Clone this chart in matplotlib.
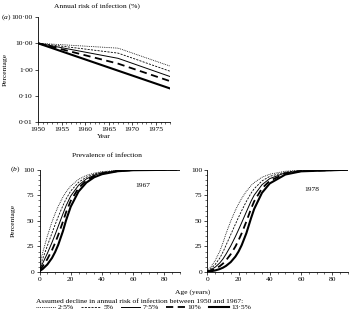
import matplotlib
matplotlib.use("Agg")
import matplotlib.pyplot as plt
from matplotlib.ticker import FixedLocator, MultipleLocator, NullLocator

plt.rcParams['font.family'] = ['Liberation Serif', 'DejaVu Serif']
plt.rcParams['mathtext.fontset'] = 'custom'
plt.rcParams['mathtext.it'] = 'Liberation Serif:italic'
plt.rcParams['mathtext.rm'] = 'Liberation Serif'
FS = 5.4

# scenarios: assumed decline in annual risk 1950-1967
labels = ['2·5%', '5%', '7·5%', '10%', '13·5%']

# (a) annual risk of infection (%)
years = [1950, 1967, 1978]
risk_25 = [10.0, 6.5, 1.35]
risk_5 = [10.0, 4.2, 0.86]
risk_75 = [10.0, 2.66, 0.54]
risk_10 = [10.0, 1.67, 0.36]
risk_135 = [10.0, 0.9, 0.19]

# (b) prevalence of infection by age, 1967
age_67 = [0, 2, 5, 8, 10, 12, 15, 17, 20, 25, 30, 35, 40, 50, 60, 90]
prev67_25 = [6.5, 18.7, 35.0, 49.1, 57.1, 64.3, 73.3, 78.2, 84.1, 90.6, 94.5, 96.7, 98.1, 99.3, 99.8, 100]
prev67_5 = [4.2, 12.7, 25.5, 38.1, 46.3, 54.1, 64.9, 71.4, 79.2, 87.7, 92.7, 95.7, 97.5, 99.1, 99.7, 100]
prev67_75 = [2.7, 8.4, 18.1, 28.9, 36.6, 44.7, 56.8, 64.7, 74.3, 84.8, 91.0, 94.7, 96.9, 98.9, 99.6, 100]
prev67_10 = [1.7, 5.5, 12.5, 21.4, 28.4, 36.2, 49.2, 58.4, 69.6, 82.1, 89.4, 93.8, 96.3, 98.7, 99.6, 100]
prev67_135 = [0.85, 2.9, 7.3, 13.7, 19.5, 26.6, 39.9, 50.5, 63.9, 78.7, 87.4, 92.6, 95.6, 98.5, 99.5, 100]

# (b) prevalence of infection by age, 1978
age_78 = [0, 2, 5, 8, 10, 12, 15, 18, 20, 22, 25, 28, 30, 35, 40, 50, 60, 90]
prev78_25 = [1.3, 4.5, 11.1, 20.3, 28.5, 37.6, 49.8, 60.4, 66.6, 72.0, 78.9, 84.5, 87.4, 92.6, 95.6, 98.5, 99.5, 100]
prev78_5 = [0.85, 2.9, 7.3, 13.6, 19.4, 26.2, 36.5, 46.8, 53.5, 59.9, 69.0, 77.0, 81.4, 89.0, 93.5, 97.7, 99.2, 100]
prev78_75 = [0.54, 1.9, 4.7, 8.9, 12.7, 17.5, 25.5, 34.7, 41.3, 48.2, 58.8, 69.2, 75.1, 85.3, 91.3, 97.0, 98.9, 100]
prev78_10 = [0.34, 1.2, 3.0, 5.7, 8.2, 11.4, 17.4, 24.9, 31.0, 37.8, 49.3, 61.8, 69.1, 81.7, 89.2, 96.2, 98.7, 100]
prev78_135 = [0.17, 0.6, 1.5, 2.9, 4.2, 6.0, 9.7, 15.1, 20.0, 26.2, 37.9, 52.6, 61.6, 77.4, 86.6, 95.3, 98.4, 100]

styles = [dict(ls=(0, (1, 1.2)), lw=0.6),
          dict(ls=(0, (2.5, 1.5)), lw=0.6),
          dict(ls='-', lw=0.7),
          dict(ls=(0, (4, 2.5)), lw=1.3),
          dict(ls='-', lw=1.5)]

W, H = 350, 317
fig = plt.figure(figsize=(W / 100, H / 100), dpi=100)


def box(x0, y0, x1, y1):
    return [x0 / W, 1 - y1 / H, (x1 - x0) / W, (y1 - y0) / H]


def style_axis(ax):
    for s in ['top', 'right']:
        ax.spines[s].set_visible(False)
    for s in ['left', 'bottom']:
        ax.spines[s].set_linewidth(0.6)
    ax.tick_params(which='major', direction='out', length=2.2, width=0.5, labelsize=FS, pad=1.5)
    ax.tick_params(which='minor', direction='out', length=1.2, width=0.4)


# panel (a)
axa = fig.add_axes(box(38, 17, 170, 122))
for vals, st in zip([risk_25, risk_5, risk_75, risk_10, risk_135], styles):
    axa.plot(years, vals, color='black', **st)
axa.set_yscale('log')
axa.set_ylim(0.01, 100)
axa.set_xlim(1950, 1978)
axa.yaxis.set_major_locator(FixedLocator([0.01, 0.1, 1, 10, 100]))
axa.set_yticklabels(['0·01', '0·10', '1·00', '10·00', '100·00'])
axa.yaxis.set_minor_locator(NullLocator())
axa.xaxis.set_major_locator(MultipleLocator(5))
axa.xaxis.set_minor_locator(MultipleLocator(1))
style_axis(axa)
axa.set_xlabel('Year', fontsize=FS, labelpad=1)
axa.set_ylabel('Percentage', fontsize=FS, labelpad=3)

fig.text(97 / W, 1 - 6 / H, 'Annual risk of infection (%)', fontsize=FS, ha='center', va='center')
fig.text(1 / W, 1 - 17 / H, r'($\it{a}$)', fontsize=FS, ha='left', va='center')

# panel (b)
axl = fig.add_axes(box(39.5, 169.7, 180.1, 272))
axr = fig.add_axes(box(207.3, 169.7, 347.9, 272))
lines = []
for ax, ages, series in [(axl, age_67, [prev67_25, prev67_5, prev67_75, prev67_10, prev67_135]),
                         (axr, age_78, [prev78_25, prev78_5, prev78_75, prev78_10, prev78_135])]:
    lines = []
    for vals, st in zip(series, styles):
        ln, = ax.plot(ages, vals, color='black', **st)
        lines.append(ln)
    ax.set_xlim(0, 90)
    ax.set_ylim(0, 100)
    ax.xaxis.set_major_locator(FixedLocator([0, 20, 40, 60, 80]))
    ax.xaxis.set_minor_locator(MultipleLocator(5))
    ax.yaxis.set_major_locator(MultipleLocator(25))
    ax.yaxis.set_minor_locator(MultipleLocator(5))
    style_axis(ax)

axl.set_ylabel('Percentage', fontsize=FS, labelpad=5)
axl.text(66, 84.5, '1967', fontsize=FS, ha='center', va='center')
axr.text(67, 80.5, '1978', fontsize=FS, ha='center', va='center')

fig.text(107 / W, 1 - 155 / H, 'Prevalence of infection', fontsize=FS, ha='center', va='center')
fig.text(10 / W, 1 - 169 / H, r'($\it{b}$)', fontsize=FS, ha='left', va='center')
fig.text(193 / W, 1 - 292 / H, 'Age (years)', fontsize=FS, ha='center', va='center')

fig.legend(lines, labels, loc='upper left', bbox_to_anchor=(36 / W, 1 - 299 / H),
           ncol=5, frameon=False, fontsize=FS, title_fontsize=FS,
           title='Assumed decline in annual risk of infection between 1950 and 1967:',
           alignment='left', handlelength=2.6, handletextpad=0.3, columnspacing=1.0,
           borderpad=0, borderaxespad=0, labelspacing=0)

fig.savefig('out.png', dpi=100)
